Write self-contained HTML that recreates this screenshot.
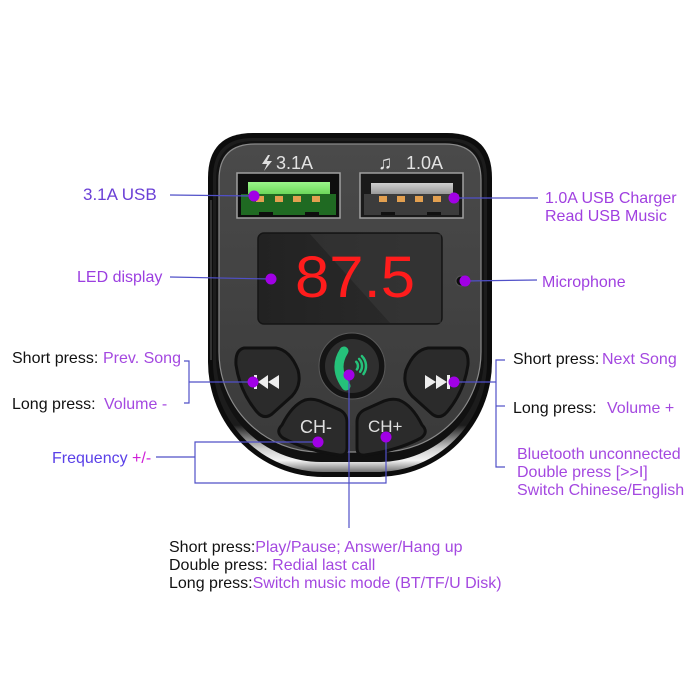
<!DOCTYPE html>
<html><head><meta charset="utf-8"><style>
html,body{margin:0;padding:0;background:#fff;}
svg{display:block;}
text{font-family:"Liberation Sans",Arial,sans-serif;}
</style></head><body>
<svg width="700" height="700" viewBox="0 0 700 700" xmlns="http://www.w3.org/2000/svg">
<defs>
<linearGradient id="chrome" x1="0" y1="0" x2="0" y2="1">
<stop offset="0" stop-color="#1c1c1c"/>
<stop offset="0.86" stop-color="#1c1c1c"/>
<stop offset="0.93" stop-color="#cfcfcf"/>
<stop offset="0.965" stop-color="#f4f4f4"/>
<stop offset="1" stop-color="#707070"/>
</linearGradient>
<linearGradient id="face" x1="0" y1="0" x2="0" y2="1">
<stop offset="0" stop-color="#4a4a4a"/>
<stop offset="1" stop-color="#3a3a3a"/>
</linearGradient>
<linearGradient id="disp" x1="0" y1="0" x2="1" y2="0">
<stop offset="0" stop-color="#222"/>
<stop offset="1" stop-color="#2c2c2c"/>
</linearGradient>
<linearGradient id="gbar" x1="0" y1="0" x2="0" y2="1">
<stop offset="0" stop-color="#9af58a"/>
<stop offset="1" stop-color="#6cd85a"/>
</linearGradient>
<linearGradient id="sbar" x1="0" y1="0" x2="0" y2="1">
<stop offset="0" stop-color="#d0d0d0"/>
<stop offset="1" stop-color="#9a9a9a"/>
</linearGradient>
</defs>
<rect width="700" height="700" fill="#fff"/>

<!-- device body -->
<path d="M208,178 Q208,133 253,133 L447,133 Q492,133 492,178 L492,362 A115,115 0 0 1 377,477 L323,477 A115,115 0 0 1 208,362 Z" fill="#0c0c0c"/>
<path d="M213,178 Q213,138 253,138 L447,138 Q487,138 487,178 L487,362 A110,110 0 0 1 377,472 L323,472 A110,110 0 0 1 213,362 Z" fill="url(#chrome)"/>
<path d="M211,200 L211,360" stroke="#555" stroke-width="1.5" fill="none" opacity="0.7"/>
<path d="M216,179 Q216,141 254,141 L446,141 Q484,141 484,179 L484,357 A105,105 0 0 1 379,462 L321,462 A105,105 0 0 1 216,357 Z" fill="#111"/>
<path d="M219,180 Q219,144 255,144 L445,144 Q481,144 481,180 L481,352 A100,100 0 0 1 381,452 L319,452 A100,100 0 0 1 219,352 Z" fill="url(#face)" stroke="#8a8a8a" stroke-width="1.2"/>

<!-- USB labels -->
<polygon points="268,155 262,164 267,164 264,171 272,161 267,161 270,155" fill="#e0e0e0"/>
<text x="276" y="169" font-size="18" fill="#e2e2e2">3.1A</text>
<text x="378" y="169" font-size="19" fill="#e2e2e2">♫</text>
<text x="406" y="169" font-size="18" fill="#e2e2e2">1.0A</text>

<!-- Left USB port -->
<rect x="237" y="173" width="103" height="45" fill="#0e0e0e" stroke="#a0a0a0" stroke-width="1.5"/>
<rect x="241" y="194" width="95" height="21" fill="#1f6a22"/>
<rect x="248" y="182" width="82" height="12" fill="url(#gbar)"/>
<rect x="256" y="196" width="8" height="6" fill="#e3a050"/>
<rect x="275" y="196" width="8" height="6" fill="#e3a050"/>
<rect x="293" y="196" width="8" height="6" fill="#e3a050"/>
<rect x="312" y="196" width="8" height="6" fill="#e3a050"/>
<rect x="259" y="212" width="14" height="3" fill="#0e0e0e"/>
<rect x="305" y="212" width="14" height="3" fill="#0e0e0e"/>

<!-- Right USB port -->
<rect x="360" y="173" width="103" height="45" fill="#1a1a1a" stroke="#a0a0a0" stroke-width="1.5"/>
<rect x="364" y="194" width="95" height="21" fill="#3c3c3c"/>
<rect x="371" y="183" width="82" height="11" fill="url(#sbar)"/>
<rect x="379" y="196" width="8" height="6" fill="#e3a050"/>
<rect x="397" y="196" width="8" height="6" fill="#e3a050"/>
<rect x="415" y="196" width="8" height="6" fill="#e3a050"/>
<rect x="433" y="196" width="8" height="6" fill="#e3a050"/>
<rect x="381" y="212" width="14" height="3" fill="#111"/>
<rect x="427" y="212" width="14" height="3" fill="#111"/>

<!-- Display -->
<rect x="258" y="233" width="184" height="91" rx="6" fill="url(#disp)" stroke="#151515" stroke-width="1.5"/>
<polygon points="310,234 441,234 441,323 390,323" fill="#3b3b3b" opacity="0.55"/>
<text x="295" y="297" font-size="58" fill="#ff1c1c" textLength="120" lengthAdjust="spacingAndGlyphs">87.5</text>

<!-- mic -->
<circle cx="461" cy="281" r="5" fill="#0c0c0c" stroke="#555" stroke-width="1"/>

<!-- Buttons -->
<path d="M244,348 L276,348 Q290,350 298,370 Q302,385 292,396 L272,414 Q264,420 257,412 Q240,392 236,365 Q235,350 244,348 Z" fill="#2b2b2b" stroke="#111" stroke-width="3"/>
<g transform="translate(704,0) scale(-1,1)">
<path d="M244,348 L276,348 Q290,350 298,370 Q302,385 292,396 L272,414 Q264,420 257,412 Q240,392 236,365 Q235,350 244,348 Z" fill="#2b2b2b" stroke="#111" stroke-width="3"/>
</g>
<path d="M282,425 Q292,405 305,400 Q312,398 320,401 L340,410 Q347,414 347,422 L347,448 Q347,456 339,455 Q305,450 283,438 Q275,432 282,425 Z" fill="#2b2b2b" stroke="#111" stroke-width="3"/>
<g transform="translate(704,0) scale(-1,1)">
<path d="M282,425 Q292,405 305,400 Q312,398 320,401 L340,410 Q347,414 347,422 L347,448 Q347,456 339,455 Q305,450 283,438 Q275,432 282,425 Z" fill="#2b2b2b" stroke="#111" stroke-width="3"/>
</g>
<circle cx="352" cy="366" r="33" fill="#141414" stroke="#5a5a5a" stroke-width="1"/>
<circle cx="352" cy="366" r="27" fill="#2f2f2f"/>

<!-- phone icon -->
<path d="M344,351 Q333,368 346,386" stroke="#25c27a" stroke-width="9" fill="none" stroke-linecap="round"/>
<path d="M356.2,361.8 A6,6 0 0 1 356.9,369.4" stroke="#25c27a" stroke-width="2.5" fill="none" stroke-linecap="round"/>
<path d="M359.1,358.9 A10,10 0 0 1 360.2,371.7" stroke="#25c27a" stroke-width="2.5" fill="none" stroke-linecap="round"/>
<path d="M361.9,356.1 A14,14 0 0 1 363.5,374" stroke="#25c27a" stroke-width="2.5" fill="none" stroke-linecap="round"/>

<!-- prev icon -->
<rect x="254" y="375" width="3" height="14" fill="#eee"/>
<polygon points="258,382 268,375 268,389" fill="#eee"/>
<polygon points="268,382 279,375 279,389" fill="#eee"/>
<!-- next icon -->
<polygon points="425,375 436,382 425,389" fill="#eee"/>
<polygon points="436,375 447,382 436,389" fill="#eee"/>
<rect x="447" y="375" width="3" height="14" fill="#eee"/>

<text x="300" y="433" font-size="18" fill="#e0e0e0">CH-</text>
<text x="368" y="432" font-size="17" fill="#e0e0e0">CH+</text>

<!-- connectors -->
<g stroke="#5050c8" stroke-width="1.2" fill="none">
<line x1="170" y1="195" x2="254" y2="196"/>
<line x1="170" y1="277" x2="271" y2="279"/>
<line x1="454" y1="198" x2="538" y2="198"/>
<line x1="465" y1="281" x2="537" y2="280"/>
<polyline points="184,361 189,361 189,403 184,403"/>
<line x1="189" y1="382" x2="253" y2="382"/>
<line x1="156" y1="457" x2="195" y2="457"/>
<polyline points="318,442 195,442 195,483 386,483 386,437"/>
<line x1="349" y1="375" x2="349" y2="528"/>
<polyline points="505,360 496,360 496,467 505,467"/>
<line x1="496" y1="406" x2="505" y2="406"/>
<line x1="454" y1="382" x2="496" y2="382"/>
</g>

<!-- dots -->
<g fill="#a100e6">
<circle cx="254" cy="196" r="5.5"/>
<circle cx="454" cy="198" r="5.5"/>
<circle cx="271" cy="279" r="5.5"/>
<circle cx="465" cy="281" r="5.5"/>
<circle cx="253" cy="382" r="5.5"/>
<circle cx="349" cy="375" r="5.5"/>
<circle cx="454" cy="382" r="5.5"/>
<circle cx="318" cy="442" r="5.5"/>
<circle cx="386" cy="437" r="5.5"/>
</g>

<!-- labels -->
<text x="83" y="200" font-size="17" fill="#6a3fd6">3.1A USB</text>
<text x="77" y="282" font-size="16" fill="#9b3ee0">LED display</text>
<text x="545" y="203" font-size="16" fill="#a040e0">1.0A USB Charger</text>
<text x="545" y="221" font-size="16" fill="#a040e0">Read USB Music</text>
<text x="542" y="287" font-size="16" fill="#a040e0">Microphone</text>

<text x="12" y="363" font-size="16" fill="#111">Short press:</text>
<text x="103" y="363" font-size="16" fill="#a448e0">Prev. Song</text>
<text x="12" y="409" font-size="16" fill="#111">Long press:</text>
<text x="104" y="409" font-size="16" fill="#a448e0">Volume -</text>
<text x="52" y="463" font-size="16"><tspan fill="#5a40e8">Frequency </tspan><tspan fill="#d020d8">+/-</tspan></text>

<text x="513" y="364" font-size="16" fill="#111">Short press:</text>
<text x="602" y="364" font-size="16" fill="#a448e0">Next Song</text>
<text x="513" y="413" font-size="16" fill="#111">Long press:</text>
<text x="607" y="413" font-size="16" fill="#a448e0">Volume +</text>
<text x="517" y="459" font-size="16" fill="#a448e0">Bluetooth unconnected</text>
<text x="517" y="477" font-size="16" fill="#a448e0">Double press [&gt;&gt;I]</text>
<text x="517" y="495" font-size="16" fill="#a448e0">Switch Chinese/English</text>

<text x="169" y="552" font-size="16"><tspan fill="#111">Short press:</tspan><tspan fill="#a448e0">Play/Pause; Answer/Hang up</tspan></text>
<text x="169" y="570" font-size="16"><tspan fill="#111">Double press: </tspan><tspan fill="#a448e0">Redial last call</tspan></text>
<text x="169" y="588" font-size="16"><tspan fill="#111">Long press:</tspan><tspan fill="#a448e0">Switch music mode (BT/TF/U Disk)</tspan></text>
</svg>
</body></html>
